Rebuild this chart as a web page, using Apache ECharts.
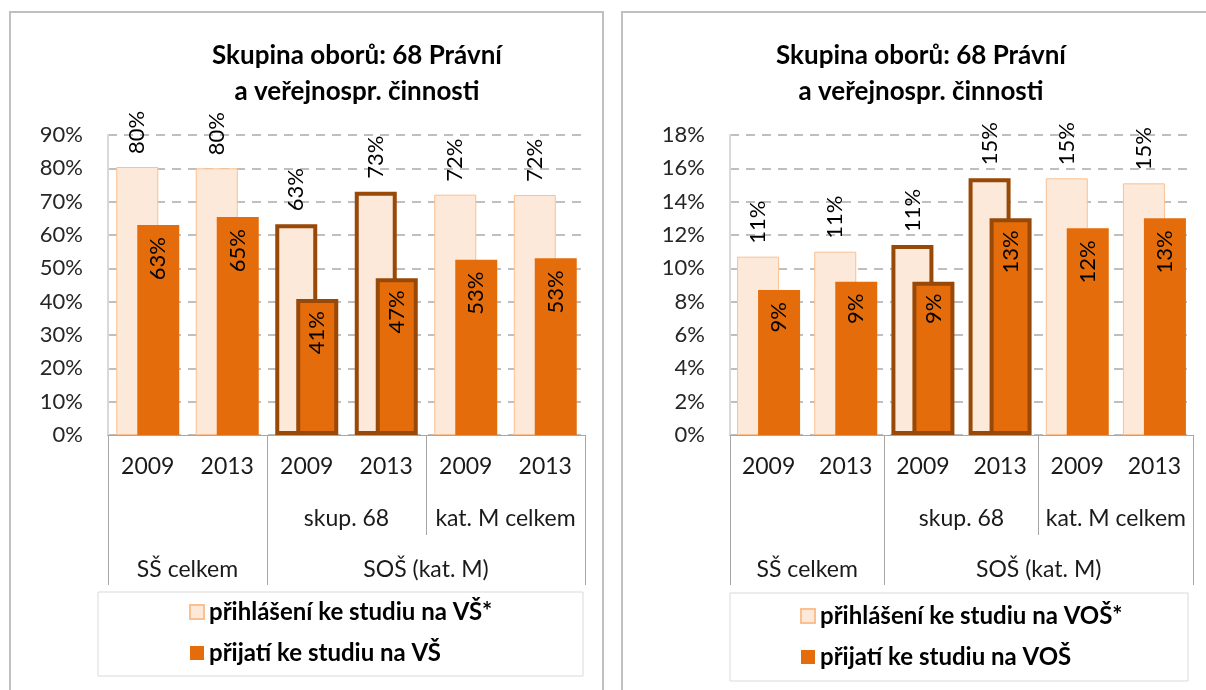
<!DOCTYPE html>
<html>
<head>
<meta charset="utf-8">
<script src="https://cdn.jsdelivr.net/npm/echarts@6/dist/echarts.min.js"></script>
<style>
html, body { margin: 0; padding: 0; background: #fff; }
#main { width: 1206px; height: 690px; }
</style>
</head>
<body>
<div id="main"></div>
<script>
// category labels, three rows under the axis
let years = ['2009', '2013', '2009', '2013', '2009', '2013'];
let midGroups = ['skup. 68', 'kat. M celkem'];
let topGroups = ['SŠ celkem', 'SOŠ (kat. M)'];

// values in %
let vsApplied = [80.4, 80.0, 63.2, 73.0, 72.1, 72.0];
let vsAccepted = [63.0, 65.4, 40.8, 47.0, 52.6, 53.0];
let vosApplied = [10.7, 11.0, 11.4, 15.4, 15.4, 15.1];
let vosAccepted = [8.7, 9.2, 9.2, 13.0, 12.4, 13.0];

// bars of skup. 68 get the brown frame
let marked = [2, 3];

let FONT = 'Lato';
let LIGHT = '#fde9d9', LIGHT_BORDER = '#fac090', DARK = '#e46c0a', FRAME = '#984807';

let myChart = echarts.init(document.getElementById('main'));

function styled(values, fill, border) {
    return values.map(function (v, i) {
        if (marked.indexOf(i) >= 0) {
            return { value: v, itemStyle: { color: fill, borderColor: FRAME, borderWidth: 4 } };
        }
        return { value: v, itemStyle: { color: fill, borderColor: border, borderWidth: border ? 1 : 0 } };
    });
}

let pct = function (p) { return Math.round(p.value) + '%'; };

let panels = [
    { left: 108, right: 621, max: 90, step: 10, names: ['přihlášení ke studiu na VŠ*', 'přijatí ke studiu na VŠ'], applied: vsApplied, accepted: vsAccepted },
    { left: 730, right: 13, max: 18, step: 2, names: ['přihlášení ke studiu na VOŠ*', 'přijatí ke studiu na VOŠ'], applied: vosApplied, accepted: vosAccepted }
];

let grid = [], xAxis = [], yAxis = [], series = [];
panels.forEach(function (p, gi) {
    grid.push({ left: p.left, right: p.right, top: 135, bottom: 255 });
    xAxis.push({
        type: 'category', gridIndex: gi, data: years, position: 'bottom',
        axisLine: { lineStyle: { color: '#a6a6a6', width: 1 } },
        axisTick: { show: false },
        axisLabel: { margin: 20, fontFamily: FONT, fontSize: 23, color: '#1a1a1a' }
    });
    xAxis.push({
        type: 'value', gridIndex: gi, min: 0, max: 6, position: 'bottom', offset: 0,
        axisLine: { show: false }, splitLine: { show: false },
        axisTick: { show: true, customValues: [0, 2, 6], length: 150, lineStyle: { color: '#a6a6a6' } },
        axisLabel: { customValues: [3, 5], margin: 72, fontFamily: FONT, fontSize: 23, color: '#1a1a1a',
            formatter: function (v) { return v === 3 ? midGroups[0] : midGroups[1]; } }
    });
    xAxis.push({
        type: 'value', gridIndex: gi, min: 0, max: 6, position: 'bottom', offset: 0,
        axisLine: { show: false }, splitLine: { show: false },
        axisTick: { show: true, customValues: [4], length: 100, lineStyle: { color: '#a6a6a6' } },
        axisLabel: { customValues: [1, 4], margin: 123, fontFamily: FONT, fontSize: 23, color: '#1a1a1a',
            formatter: function (v) { return v === 1 ? topGroups[0] : topGroups[1]; } }
    });
    yAxis.push({
        type: 'value', gridIndex: gi, min: 0, max: p.max, interval: p.step,
        axisLine: { show: true, lineStyle: { color: '#d9d9d9', width: 2 } },
        axisTick: { show: false },
        axisLabel: { margin: 25, fontFamily: FONT, fontSize: 22, color: '#262626', formatter: '{value}%' },
        splitLine: { lineStyle: { color: '#bfbfbf', width: 2, type: [9, 7] } }
    });
    yAxis.push({
        type: 'value', gridIndex: gi, min: 0, max: p.max, position: 'right',
        axisLine: { show: true, lineStyle: { color: '#d9d9d9', width: 2 } },
        axisTick: { show: false }, axisLabel: { show: false }, splitLine: { show: false }
    });
    series.push({
        name: p.names[0], type: 'bar', xAxisIndex: gi * 3, yAxisIndex: gi * 2,
        barWidth: 42, barGap: '-50%',
        itemStyle: { color: LIGHT, borderColor: LIGHT_BORDER, borderWidth: 1 },
        data: styled(p.applied, LIGHT, LIGHT_BORDER),
        label: { show: true, position: 'top', rotate: 90, distance: 13, align: 'left', verticalAlign: 'middle',
            fontFamily: FONT, fontSize: 22, color: '#000', formatter: pct }
    });
    series.push({
        name: p.names[1], type: 'bar', xAxisIndex: gi * 3, yAxisIndex: gi * 2,
        barWidth: 42, barGap: '-50%',
        itemStyle: { color: DARK },
        data: styled(p.accepted, DARK, null),
        label: { show: true, position: 'insideTop', rotate: 90, distance: 12, align: 'right', verticalAlign: 'middle',
            fontFamily: FONT, fontSize: 22, color: '#000', formatter: pct }
    });
});

let titleText = 'Skupina oborů: 68 Právní\na veřejnospr. činnosti';
let titleStyle = { fontFamily: FONT, fontSize: 26, fontWeight: 'bold', lineHeight: 36, color: '#000' };
let legendStyle = { fontFamily: FONT, fontSize: 24, fontWeight: 'bold', color: '#000' };

let option = {
    animation: false,
    title: [
        { text: titleText, left: 357, top: 38, textAlign: 'center', padding: 0, textStyle: titleStyle },
        { text: titleText, left: 921, top: 38, textAlign: 'center', padding: 0, textStyle: titleStyle }
    ],
    legend: [
        { data: panels[0].names, orient: 'vertical', left: 189, top: 600, itemWidth: 14, itemHeight: 14, itemGap: 17, padding: 0,
          icon: 'rect', textStyle: legendStyle },
        { data: panels[1].names, orient: 'vertical', left: 800, top: 604, itemWidth: 14, itemHeight: 14, itemGap: 17, padding: 0,
          icon: 'rect', textStyle: legendStyle }
    ],
    graphic: [
        { type: 'rect', z: -1, shape: { x: 10, y: 12, width: 593, height: 700 }, style: { fill: 'none', stroke: '#c0c0c0', lineWidth: 2 } },
        { type: 'rect', z: -1, shape: { x: 622, y: 12, width: 600, height: 700 }, style: { fill: 'none', stroke: '#c0c0c0', lineWidth: 2 } },
        { type: 'rect', z: -1, shape: { x: 98, y: 592, width: 485, height: 84 }, style: { fill: 'none', stroke: '#d9d9d9', lineWidth: 1 } },
        { type: 'rect', z: -1, shape: { x: 730, y: 593, width: 458, height: 88 }, style: { fill: 'none', stroke: '#d9d9d9', lineWidth: 1 } }
    ],
    grid: grid,
    xAxis: xAxis,
    yAxis: yAxis,
    series: series
};
myChart.setOption(option);
</script>
</body>
</html>
